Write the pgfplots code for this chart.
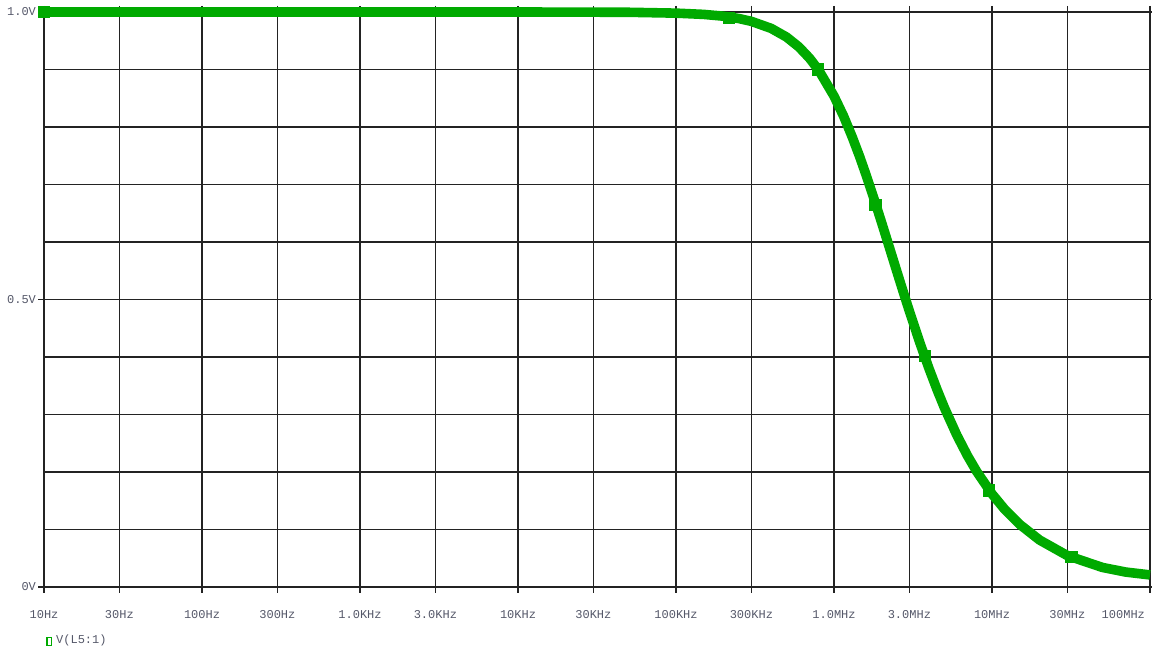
\documentclass[border=0pt]{standalone}
\usepackage{fontspec}
\usepackage{pgfplots}
\pgfplotsset{compat=1.18}
\newfontfamily\monofont{Liberation Mono}
\newcommand{\tickfont}{\monofont\fontsize{6}{7}\selectfont}
\definecolor{curvegreen}{RGB}{0,170,0}
\definecolor{labelgray}{RGB}{85,88,105}
\definecolor{gridcol}{RGB}{35,35,35}
\begin{document}
\begin{tikzpicture}
\begin{axis}[
  name=ax,
  scale only axis,
  width=553pt, height=287.5pt,
  xmode=log, log basis x=10,
  xmin=10, xmax=1e8, ymin=0, ymax=1,
  clip=false,
  axis line style={gridcol, line width=0.75pt},
  xmajorgrids=true, ymajorgrids=true, yminorgrids=true,
  xminorticks=false,
  major grid style={gridcol, line width=0.75pt},
  minor grid style={gridcol, line width=0.75pt},
  ytick={0,0.5,1}, yticklabels={0V,0.5V,1.0V},
  minor ytick={0.1,0.2,0.3,0.4,0.6,0.7,0.8,0.9},
  xtick={10,30,100,300,1000,3000,10000,30000,100000,300000,1000000,3000000,10000000,30000000},
  xticklabels={10Hz,30Hz,100Hz,300Hz,1.0KHz,3.0KHz,10KHz,30KHz,100KHz,300KHz,1.0MHz,3.0MHz,10MHz,30MHz},
  extra x ticks={100000000},
  extra x tick labels={100MHz},
  extra x tick style={grid=major, xticklabel style={anchor=north east, xshift=1pt}},
  tick align=outside,
  major tick length=3pt, minor tick length=0pt,
  tick style={gridcol, line width=0.75pt},
  ticklabel style={font=\tickfont, text=labelgray},
  xticklabel style={yshift=-5pt},
  yticklabel style={xshift=2.5pt},
  legend style={at={(rel axis cs:0,0)}, anchor=north west, xshift=1pt, yshift=-21.5pt,
    draw=none, fill=none, font=\tickfont, text=labelgray, inner sep=0pt,
    legend cell align=left},
  legend image code/.code={\draw[curvegreen, line width=0.6pt] (0.05cm,-0.09cm) rectangle (0.13cm,0.05cm);},
]
\addlegendimage{curvegreen}
\addlegendentry{V(L5:1)}
\addplot[curvegreen, line width=4.8pt, line join=round, forget plot] coordinates {
(10,1.0)(100,1.0)(1000,1.0)(10000,1.0)(50000,0.9995)(100000,0.998)(150000,0.9958)
(200000,0.9927)(250000,0.9886)(300000,0.9837)(400000,0.9715)(500000,0.9565)
(600000,0.9391)(700000,0.9197)(800000,0.8988)(1000000,0.8537)(1150000,0.8188)
(1300000,0.7835)(1450000,0.7492)(1600000,0.7157)(1800000,0.6735)(2000000,0.634)
(2250000,0.589)(2500000,0.5485)(2750000,0.5122)(3000000,0.4797)(3500000,0.4243)
(4000000,0.3793)(4500000,0.3424)(5000000,0.3116)(6000000,0.2636)(7000000,0.2281)
(8000000,0.2008)(10000000,0.1618)(12000000,0.1354)(15000000,0.1087)(20000000,0.0817)
(30000000,0.0546)(50000000,0.034)(70000000,0.026)(100000000,0.021)
};
\addplot[curvegreen, only marks, mark=square*, mark size=2.8pt, forget plot] coordinates {
(10,1.0)(215000,0.99)(787000,0.9)(1830000,0.665)(3740000,0.402)(9600000,0.168)(31800000,0.053)
};
\end{axis}
\pgfresetboundingbox
\path (ax.south west) ++(-22pt,-29.5pt) coordinate (bbsw);
\path (ax.north east) ++(1pt,6pt) coordinate (bbne);
\useasboundingbox (bbsw) rectangle (bbne);
\end{tikzpicture}
\end{document}
